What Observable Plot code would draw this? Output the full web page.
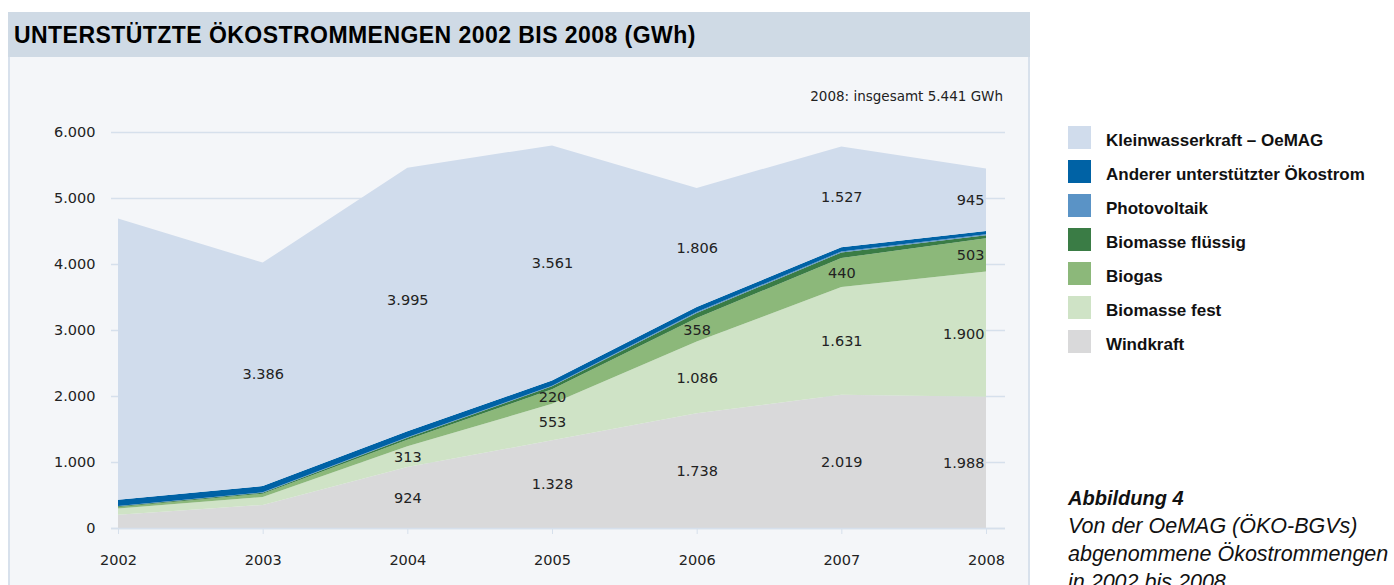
<!DOCTYPE html>
<html><head><meta charset="utf-8">
<script src="https://cdn.jsdelivr.net/npm/d3@7"></script>
<script src="https://cdn.jsdelivr.net/npm/@observablehq/plot@0.6"></script>
<style>
body{margin:0;width:1394px;height:585px;overflow:hidden;background:#fff;position:relative;font-family:"DejaVu Sans",sans-serif}
#bar{position:absolute;left:8px;top:12px;width:1022px;height:45px;background:#cfdae5}
#title{position:absolute;left:14px;top:12px;height:45px;line-height:46px;font-family:"Liberation Sans",sans-serif;font-weight:bold;font-size:23px;letter-spacing:0.45px;color:#000;white-space:nowrap}
#panel{position:absolute;left:8px;top:57px;width:1018px;height:540px;background:#f4f6f9;border-left:2px solid #d8e1ec;border-right:2px solid #d8e1ec}
#chart{position:absolute;left:0;top:0}
#total{position:absolute;left:700px;width:303px;top:88px;text-align:right;font-size:13.5px;color:#222;white-space:nowrap}
#legend{position:absolute;left:1068px;top:126px;font-family:"Liberation Sans",sans-serif;font-weight:bold;font-size:17px;color:#111}
.item{height:34px;display:flex;align-items:flex-start;white-space:nowrap}
.sw{width:23px;height:23px;margin-right:15px;flex:none}
.lt{line-height:23px;padding-top:3px}
#caption{position:absolute;left:1068px;top:484px;font-family:"Liberation Sans",sans-serif;font-style:italic;font-size:21.5px;line-height:28px;color:#111;white-space:nowrap}
#caption b{font-size:20px}
</style></head>
<body>
<div id="bar"></div>
<div id="title"></div>
<div id="panel"></div>
<div id="chart"></div>
<div id="total"></div>
<div id="legend"></div>
<div id="caption"></div>
<script>
const titleText = "UNTERSTÜTZTE ÖKOSTROMMENGEN 2002 BIS 2008 (GWh)";
const totalText = "2008: insgesamt 5.441 GWh";
const captionHead = "Abbildung 4";
const captionLines = ["Von der OeMAG (ÖKO-BGVs)", "abgenommene Ökostrommengen", "in 2002 bis 2008"];

const years = [2002, 2003, 2004, 2005, 2006, 2007, 2008];
const seriesNames = ["Windkraft", "Biomasse fest", "Biogas", "Biomasse flüssig", "Photovoltaik", "Anderer unterstützter Ökostrom", "Kleinwasserkraft – OeMAG"];
const seriesColors = ["#d9d9da", "#cfe3c6", "#8cb87a", "#3a7c45", "#5a93c6", "#0062a5", "#d0dcec"];

const windkraft     = [200, 350, 924, 1328, 1738, 2019, 1988];
const biomasseFest  = [95, 120, 313, 553, 1086, 1631, 1900];
const biogas        = [25, 50, 100, 220, 358, 440, 503];
const biomasseFl    = [10, 15, 30, 45, 75, 85, 45];
const photovoltaik  = [3, 5, 8, 10, 15, 15, 15];
const anderer       = [95, 95, 90, 80, 75, 65, 50];
const kleinwasser   = [4260, 3386, 3995, 3561, 1806, 1527, 945];

// which values carry a printed label (1 = labelled)
const windShown   = [0, 0, 1, 1, 1, 1, 1];
const festShown   = [0, 0, 1, 1, 1, 1, 1];
const biogasShown = [0, 0, 0, 1, 1, 1, 1];
const flShown     = [0, 0, 0, 0, 0, 0, 0];
const pvShown     = [0, 0, 0, 0, 0, 0, 0];
const andShown    = [0, 0, 0, 0, 0, 0, 0];
const kwShown     = [0, 1, 1, 1, 1, 1, 1];

const yTicks = [0, 1000, 2000, 3000, 4000, 5000, 6000];

const seriesValues = [windkraft, biomasseFest, biogas, biomasseFl, photovoltaik, anderer, kleinwasser];
const seriesShown = [windShown, festShown, biogasShown, flShown, pvShown, andShown, kwShown];

const locale = d3.formatLocale({decimal: ",", thousands: ".", grouping: [3], currency: ["", " €"]});
const fmt = locale.format(",d");

const data = [];
seriesNames.forEach((s, i) => years.forEach((yr, j) => data.push({year: yr, series: s, value: seriesValues[i][j], shown: seriesShown[i][j]})));
const lastYear = years[years.length - 1];

document.getElementById("title").textContent = titleText;
document.getElementById("total").textContent = totalText;

const grid = "#d6e0ec";
const plot = Plot.plot({
  width: 1040, height: 585,
  marginLeft: 111, marginRight: 35, marginTop: 132, marginBottom: 57,
  insetLeft: 7, insetRight: 19,
  style: {background: "transparent", fontFamily: "DejaVu Sans, sans-serif", fontSize: "14.5px", color: "#222", overflow: "visible"},
  x: {domain: [years[0], lastYear], axis: null},
  y: {domain: [0, 6000], axis: null},
  color: {domain: seriesNames, range: seriesColors},
  marks: [
    Plot.ruleY(yTicks, {stroke: grid, strokeWidth: 1.6}),
    Plot.areaY(data, {x: "year", y: "value", z: "series", fill: "series"}),
    Plot.ruleY([0], {stroke: grid, strokeWidth: 1.6}),
    Plot.axisX({ticks: years, tickFormat: d => String(d), tickSize: 6, tickPadding: 20, stroke: grid, fill: "#222", label: null, fontSize: 14.5}),
    Plot.axisY({ticks: yTicks, tickFormat: fmt, tickSize: 0, tickPadding: 16, fill: "#222", label: null, fontSize: 14.5}),
    Plot.text(data, Plot.stackY({x: "year", y: "value", z: "series",
      text: d => (d.shown && d.year !== lastYear) ? fmt(d.value) : null, fill: "#222", fontSize: 14.5})),
    Plot.text(data, Plot.stackY({x: "year", y: "value", z: "series",
      text: d => (d.shown && d.year === lastYear) ? fmt(d.value) : null, textAnchor: "end", dx: -2, fill: "#222", fontSize: 14.5}))
  ]
});
document.getElementById("chart").appendChild(plot);

const legend = document.getElementById("legend");
[...seriesNames].reverse().forEach((s, k) => {
  const i = seriesNames.length - 1 - k;
  const row = document.createElement("div"); row.className = "item";
  const sw = document.createElement("div"); sw.className = "sw"; sw.style.background = seriesColors[i];
  const t = document.createElement("div"); t.className = "lt"; t.textContent = s;
  row.appendChild(sw); row.appendChild(t); legend.appendChild(row);
});

const cap = document.getElementById("caption");
const b = document.createElement("b"); b.textContent = captionHead; cap.appendChild(b);
captionLines.forEach(l => { const d = document.createElement("div"); d.textContent = l; cap.appendChild(d); });
</script>
</body></html>
